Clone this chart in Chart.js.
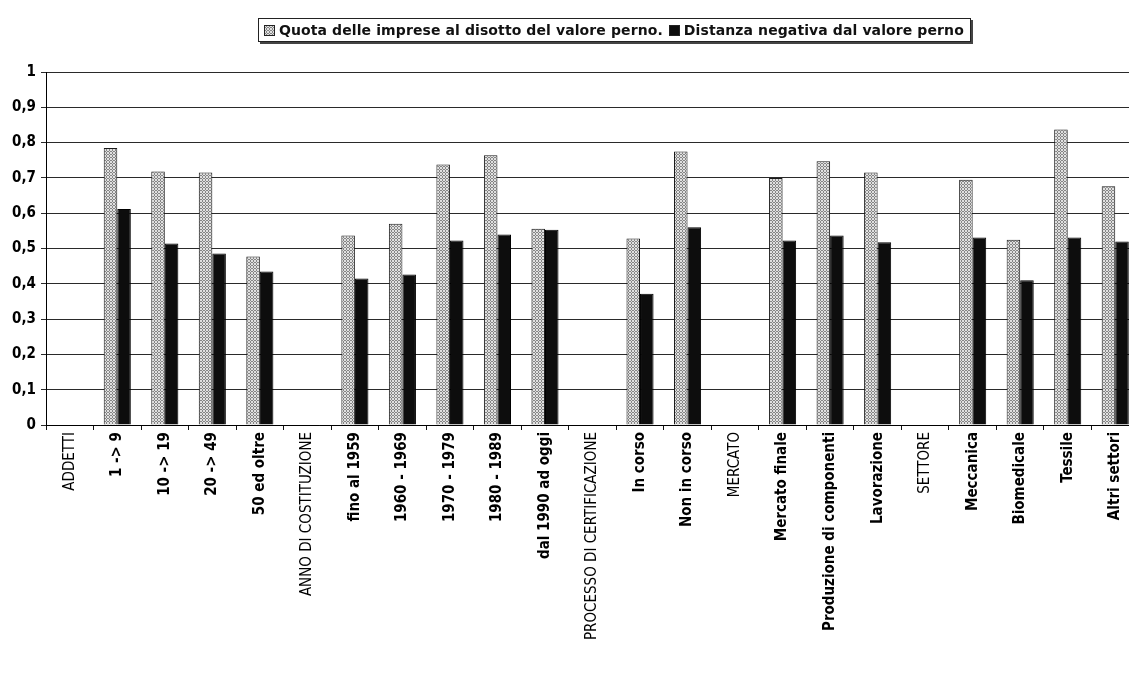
<!DOCTYPE html>
<html lang="it">
<head>
<meta charset="utf-8">
<title>Quota e distanza dal valore perno</title>
<script src="https://cdn.jsdelivr.net/npm/chart.js@4.4.1/dist/chart.umd.min.js"></script>
<style>
  html, body { margin: 0; padding: 0; background: #fff; overflow: hidden; }
  #wrap { position: relative; width: 1129px; height: 677px; overflow: hidden; }
  #chart { position: absolute; left: 0; top: 0; }
  #legend {
    position: absolute; left: 258px; top: 18px; height: 22px;
    border: 1px solid #222; box-shadow: 2px 2px 0 #444;
    background: #fff; display: flex; align-items: center;
    padding: 0 6px 0 5px; white-space: nowrap;
    font-family: 'DejaVu Sans', Verdana, sans-serif; font-weight: bold;
    font-size: 14px; letter-spacing: 0.1px; color: #111;
  }
  #legend .sw { display: inline-block; width: 9px; height: 9px; border: 1px solid #222; margin-right: 4px; }
  #legend .dark { background: #0d0d0d; margin-left: 6px; }
</style>
</head>
<body>
<div id="wrap">
  <canvas id="chart" width="1139" height="677"></canvas>
  <div id="legend">
    <span class="sw" id="swLight"></span><span>Quota delle imprese al disotto del valore perno.</span>
    <span class="sw dark"></span><span>Distanza negativa dal valore perno</span>
  </div>
</div>
<script>
// Categories along the x axis (group headers are in capitals)
const categories = [
  'ADDETTI', '1 -> 9', '10 -> 19', '20 -> 49', '50 ed oltre',
  'ANNO DI COSTITUZIONE', 'fino al 1959', '1960 - 1969', '1970 - 1979', '1980 - 1989', 'dal 1990 ad oggi',
  'PROCESSO DI CERTIFICAZIONE', 'In corso', 'Non in corso',
  'MERCATO', 'Mercato finale', 'Produzione di componenti', 'Lavorazione',
  'SETTORE', 'Meccanica', 'Biomedicale', 'Tessile', 'Altri settori'
];
const groupHeaders = ['ADDETTI', 'ANNO DI COSTITUZIONE', 'PROCESSO DI CERTIFICAZIONE', 'MERCATO', 'SETTORE'];

// Share of firms below the pivot value
const quotaSotto = [
  null, 0.785, 0.718, 0.715, 0.477,
  null, 0.537, 0.570, 0.738, 0.764, 0.556,
  null, 0.528, 0.775,
  null, 0.700, 0.747, 0.715,
  null, 0.695, 0.525, 0.837, 0.676
];
// Negative distance from the pivot value
const distanzaNegativa = [
  null, 0.612, 0.514, 0.486, 0.435,
  null, 0.415, 0.426, 0.523, 0.540, 0.553,
  null, 0.372, 0.560,
  null, 0.523, 0.537, 0.518,
  null, 0.531, 0.410, 0.531, 0.520
];
const seriesNames = ['Quota delle imprese al disotto del valore perno.', 'Distanza negativa dal valore perno'];
const yTicks = [0, 0.1, 0.2, 0.3, 0.4, 0.5, 0.6, 0.7, 0.8, 0.9, 1];

// Cross-hatched grey fill for the first series
const tile = document.createElement('canvas');
tile.width = 3; tile.height = 3;
const tctx = tile.getContext('2d');
tctx.fillStyle = '#e0e0e0';
tctx.fillRect(0, 0, 3, 3);
tctx.fillStyle = '#858585';
[[1, 0], [0, 1], [2, 1], [1, 2]].forEach(([x, y]) => tctx.fillRect(x, y, 1, 1));
const hatch = document.getElementById('chart').getContext('2d').createPattern(tile, 'repeat');
document.getElementById('swLight').style.background = 'url(' + tile.toDataURL() + ')';

const narrow = "'Liberation Sans Narrow', 'DejaVu Sans Condensed', 'Arial Narrow', sans-serif";

new Chart(document.getElementById('chart'), {
  type: 'bar',
  data: {
    labels: categories,
    datasets: [
      {
        label: seriesNames[0], data: quotaSotto,
        backgroundColor: hatch, borderColor: '#1a1a1a', borderWidth: 1,
        categoryPercentage: 0.57, barPercentage: 1.0
      },
      {
        label: seriesNames[1], data: distanzaNegativa,
        backgroundColor: '#0d0d0d', borderColor: '#000', borderWidth: 1,
        categoryPercentage: 0.57, barPercentage: 1.0
      }
    ]
  },
  options: {
    responsive: false,
    devicePixelRatio: 1,
    animation: false,
    layout: { padding: { top: 72, left: 0, right: 0, bottom: 0 } },
    plugins: { legend: { display: false }, tooltip: { enabled: false } },
    scales: {
      x: {
        offset: true,
        afterFit: (s) => { s.height = 677 - 425; },
        grid: { display: true, drawOnChartArea: false, drawTicks: true, tickLength: 5, color: '#111', offset: true },
        border: { display: true, color: '#000', width: 1 },
        ticks: {
          autoSkip: false, maxRotation: 90, minRotation: 90, padding: 2, color: '#000',
          font: (ctx) => ({
            family: narrow, size: 15,
            weight: groupHeaders.includes(categories[ctx.index]) ? 'normal' : 'bold'
          })
        }
      },
      y: {
        min: 0, max: 1,
        afterFit: (s) => { s.width = 46; },
        afterBuildTicks: (s) => { s.ticks = yTicks.map(v => ({ value: v })); },
        grid: { color: '#2a2a2a', lineWidth: 1, drawTicks: true, tickLength: 5 },
        border: { display: true, color: '#000', width: 1 },
        ticks: {
          padding: 5, color: '#000',
          font: { family: narrow, size: 15, weight: 'bold' },
          callback: (v) => (v === 0 || v === 1) ? String(v) : String(v.toFixed(1)).replace('.', ',')
        }
      }
    }
  }
});
</script>
</body>
</html>
